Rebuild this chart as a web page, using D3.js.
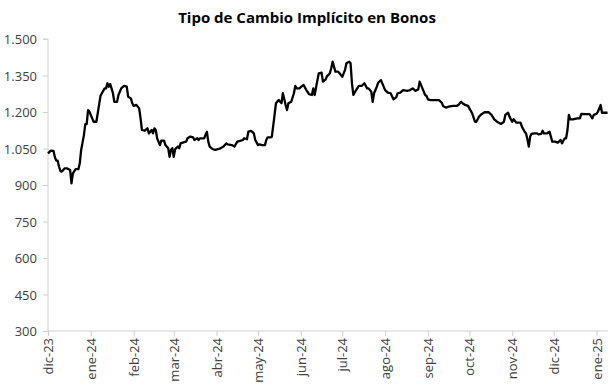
<!DOCTYPE html>
<html><head><meta charset="utf-8">
<script src="https://cdn.jsdelivr.net/npm/d3@7"></script>
<style>body{margin:0;background:#fff}svg{display:block}</style>
</head><body>
<svg id="c" width="610" height="386"></svg>
<script>
const title = "Tipo de Cambio Implícito en Bonos";
const dates = ["2023-12-01","2023-12-03","2023-12-05","2023-12-06","2023-12-07","2023-12-08","2023-12-09","2023-12-10","2023-12-11","2023-12-13","2023-12-15","2023-12-17","2023-12-18","2023-12-19","2023-12-21","2023-12-23","2023-12-24","2023-12-25","2023-12-27","2023-12-28","2023-12-29","2023-12-30","2023-12-31",
"2024-01-02","2024-01-03","2024-01-05","2024-01-06","2024-01-08","2024-01-09","2024-01-11","2024-01-12","2024-01-13","2024-01-14","2024-01-15","2024-01-16","2024-01-17","2024-01-18","2024-01-20","2024-01-21","2024-01-23","2024-01-25","2024-01-27","2024-01-28","2024-01-30","2024-01-31",
"2024-02-01","2024-02-03","2024-02-05","2024-02-06","2024-02-07","2024-02-09","2024-02-11","2024-02-12","2024-02-14","2024-02-15","2024-02-16","2024-02-17","2024-02-18","2024-02-20","2024-02-21","2024-02-23","2024-02-24","2024-02-26","2024-02-27","2024-02-28","2024-02-29",
"2024-03-01","2024-03-02","2024-03-04","2024-03-05","2024-03-06","2024-03-08","2024-03-10","2024-03-11","2024-03-13","2024-03-15","2024-03-16","2024-03-18","2024-03-19","2024-03-20","2024-03-23","2024-03-25","2024-03-26","2024-03-27","2024-03-29","2024-03-31",
"2024-04-02","2024-04-03","2024-04-06","2024-04-08","2024-04-09","2024-04-12","2024-04-14","2024-04-16","2024-04-18","2024-04-20","2024-04-21","2024-04-23","2024-04-24","2024-04-26","2024-04-28","2024-04-29",
"2024-05-01","2024-05-02","2024-05-04","2024-05-06","2024-05-07","2024-05-08","2024-05-10","2024-05-11","2024-05-13","2024-05-14","2024-05-16","2024-05-17","2024-05-18","2024-05-19","2024-05-21","2024-05-22","2024-05-23","2024-05-25","2024-05-27","2024-05-28","2024-05-29","2024-05-31",
"2024-06-02","2024-06-03","2024-06-05","2024-06-07","2024-06-09","2024-06-10","2024-06-11","2024-06-13","2024-06-14","2024-06-16","2024-06-17","2024-06-19","2024-06-20","2024-06-21","2024-06-22","2024-06-23","2024-06-24","2024-06-26","2024-06-28","2024-06-29",
"2024-07-01","2024-07-03","2024-07-04","2024-07-06","2024-07-07","2024-07-08","2024-07-09","2024-07-11","2024-07-13","2024-07-15","2024-07-17","2024-07-19","2024-07-20","2024-07-22","2024-07-23","2024-07-24","2024-07-26","2024-07-27","2024-07-29",
"2024-08-01","2024-08-03","2024-08-05","2024-08-07","2024-08-09","2024-08-10","2024-08-12","2024-08-14","2024-08-17","2024-08-19","2024-08-21","2024-08-23","2024-08-25","2024-08-26","2024-08-28","2024-08-30","2024-08-31",
"2024-09-01","2024-09-03","2024-09-06","2024-09-09","2024-09-11","2024-09-12","2024-09-14","2024-09-16","2024-09-19","2024-09-22","2024-09-23","2024-09-25","2024-09-26","2024-09-28","2024-09-30",
"2024-10-01","2024-10-03","2024-10-05","2024-10-06","2024-10-08","2024-10-10","2024-10-12","2024-10-15","2024-10-17","2024-10-19","2024-10-21","2024-10-24","2024-10-26","2024-10-27","2024-10-29","2024-10-30",
"2024-11-01","2024-11-02","2024-11-04","2024-11-07","2024-11-08","2024-11-10","2024-11-11","2024-11-12","2024-11-13","2024-11-14","2024-11-15","2024-11-17","2024-11-19","2024-11-20","2024-11-22","2024-11-23","2024-11-24","2024-11-26","2024-11-28","2024-11-29","2024-11-30",
"2024-12-02","2024-12-04","2024-12-06","2024-12-07","2024-12-09","2024-12-10","2024-12-11","2024-12-12","2024-12-13","2024-12-15","2024-12-18","2024-12-20","2024-12-21","2024-12-24","2024-12-27","2024-12-29","2024-12-30",
"2025-01-01","2025-01-02","2025-01-04","2025-01-05","2025-01-07","2025-01-09"];
const values = [1030,1041,1040,1014,1000,1000,975,958,955,968,968,962,907,948,965,965,989,1044,1105,1150,1150,1208,1201,
1174,1160,1160,1195,1266,1277,1297,1297,1318,1304,1315,1297,1277,1242,1242,1270,1297,1307,1304,1263,1256,1236,
1225,1229,1215,1174,1126,1123,1133,1112,1126,1112,1133,1126,1092,1064,1082,1082,1064,1051,1016,1044,1051,
1016,1047,1058,1051,1071,1075,1078,1092,1099,1096,1085,1092,1085,1092,1092,1119,1078,1058,1048,1044,
1047,1048,1058,1071,1067,1064,1058,1078,1081,1085,1092,1088,1119,1122,1112,1085,
1064,1067,1064,1064,1085,1096,1096,1098,1188,1236,1249,1242,1236,1277,1229,1208,1236,1242,1277,1307,1297,1297,
1307,1311,1290,1273,1270,1297,1270,1331,1359,1362,1325,1334,1348,1352,1359,1380,1407,1366,1366,1359,
1345,1373,1400,1407,1400,1318,1270,1290,1307,1307,1318,1297,1297,1283,1242,1277,1304,1321,1331,
1290,1280,1277,1252,1260,1277,1280,1290,1287,1290,1297,1287,1293,1325,1297,1270,1266,
1252,1249,1249,1249,1238,1225,1218,1222,1225,1225,1229,1242,1236,1229,1225,
1215,1195,1160,1160,1181,1192,1199,1199,1188,1170,1160,1151,1160,1188,1197,1181,
1160,1170,1156,1156,1140,1119,1112,1088,1058,1099,1110,1112,1112,1108,1110,1123,1112,1112,1119,1099,1078,
1078,1074,1085,1071,1092,1092,1126,1188,1170,1170,1174,1174,1192,1191,1191,1174,1188,
1192,1201,1229,1197,1197,1197];
const yTicks = [300,450,600,750,900,1050,1200,1350,1500];
const yTickLabels = ["300","450","600","750","900","1.050","1.200","1.350","1.500"];
const monthTicks = ["2023-12-01","2024-01-01","2024-02-01","2024-03-01","2024-04-01","2024-05-01","2024-06-01","2024-07-01","2024-08-01","2024-09-01","2024-10-01","2024-11-01","2024-12-01","2025-01-01"];
const monthLabels = ["dic-23","ene-24","feb-24","mar-24","abr-24","may-24","jun-24","jul-24","ago-24","sep-24","oct-24","nov-24","dic-24","ene-25"];

const parse = d3.utcParse("%Y-%m-%d");
const data = dates.map((d,i)=>({date:parse(d), value:values[i]}));
const svg = d3.select("#c");
const font = "'Open Sans', sans-serif";
const x = d3.scaleUtc().domain([parse("2023-12-01"), parse("2025-01-01")]).range([48, 596.5]);
const y = d3.scaleLinear().domain([300,1500]).range([331,39]);
const axisColor = "#d0d0d0";
const textColor = "#404040";

svg.append("text").attr("x",307).attr("y",23).attr("text-anchor","middle")
  .attr("font-family",font).attr("font-weight","bold").attr("font-size",15).attr("fill","#000").text(title);

// y axis
const ya = svg.append("g").attr("transform","translate(48,0)")
  .call(d3.axisLeft(y).tickValues(yTicks).tickSize(5).tickFormat((d,i)=>yTickLabels[i]));
ya.select(".domain").attr("stroke",axisColor).attr("d",`M-5,${y(1500)}H0V${y(300)}`);
ya.selectAll(".tick line").attr("stroke",axisColor);
ya.selectAll(".tick text").attr("font-family",font).attr("font-size",13).attr("fill",textColor).attr("x",-11).attr("dy","0.35em");

// x axis
const xa = svg.append("g").attr("transform",`translate(0,${y(300)})`)
  .call(d3.axisBottom(x).tickValues(monthTicks.map(parse)).tickSize(5).tickFormat((d,i)=>monthLabels[i]));
xa.select(".domain").attr("stroke",axisColor).attr("d","M48,0H608");
xa.selectAll(".tick line").attr("stroke",axisColor);
xa.selectAll(".tick text").attr("font-family",font).attr("font-size",13).attr("fill",textColor)
  .attr("transform","rotate(-90)").attr("text-anchor","end").attr("x",-7).attr("y",0).attr("dy","0.35em");

svg.append("path").datum(data)
  .attr("fill","none").attr("stroke","#000").attr("stroke-width",2.3).attr("stroke-linejoin","round")
  .attr("d", d3.line().x(d=>x(d.date)).y(d=>y(d.value)));
</script>
</body></html>
